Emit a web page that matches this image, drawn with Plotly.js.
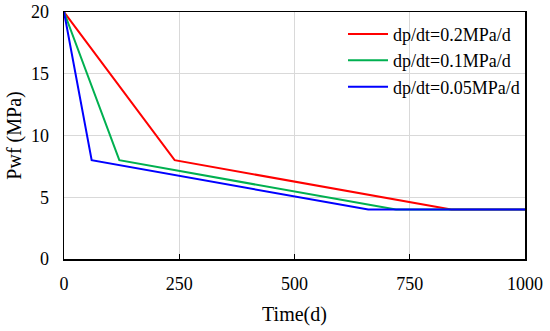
<!DOCTYPE html>
<html>
<head>
<meta charset="utf-8">
<script src="https://cdn.plot.ly/plotly-3.0.1.min.js"></script>
<style>html,body{margin:0;padding:0;background:#fff;}#chart{width:550px;height:331px;}</style>
</head>
<body>
<div id="chart"></div>
<script>
var seriesNames = ["dp/dt=0.2MPa/d", "dp/dt=0.1MPa/d", "dp/dt=0.05MPa/d"];
var timeRed = [0, 240, 840, 1000];
var pwfRed = [20, 8, 4, 4];
var timeGreen = [0, 120, 720, 1000];
var pwfGreen = [20, 8, 4, 4];
var timeBlue = [0, 60, 660, 1000];
var pwfBlue = [20, 8, 4, 4];
var xTicks = [0, 250, 500, 750, 1000];
var yTicks = [0, 5, 10, 15, 20];

var colors = ["#ff0000", "#00b050", "#0000ff"];
var xs = [timeRed, timeGreen, timeBlue];
var ys = [pwfRed, pwfGreen, pwfBlue];
var traces = seriesNames.map(function(n, i){
  return {x: xs[i], y: ys[i], name: n, mode: "lines", type: "scatter",
          line: {color: colors[i], width: 2}};
});
var fam = "'Liberation Serif', 'Times New Roman', serif";
var font = {family: fam, color: "#000"};
var layout = {
  width: 550, height: 331,
  margin: {l: 64, r: 25, t: 12, b: 72},
  paper_bgcolor: "#fff", plot_bgcolor: "#fff",
  font: font,
  showlegend: true,
  legend: {x: 1, y: 0.985, xanchor: "right", yanchor: "top", bgcolor: "rgba(0,0,0,0)",
           font: {family: fam, size: 18, color: "#000"}, tracegroupgap: 0, itemwidth: 40},
  xaxis: {range: [0, 1000], tickvals: xTicks, ticks: "inside", ticklen: 5, tickcolor: "#000",
          ticklabelstandoff: 8,
          showgrid: true, gridcolor: "#d9d9d9", gridwidth: 1, showline: true, linecolor: "#000",
          linewidth: 1.5, mirror: true, zeroline: false, tickfont: {family: fam, size: 18, color: "#000"},
          title: {text: "Time(d)", font: {family: fam, size: 20, color: "#000"}, standoff: 14}},
  yaxis: {range: [0, 20], tickvals: yTicks, ticks: "", ticklabelstandoff: 10,
          showgrid: true, gridcolor: "#d9d9d9", gridwidth: 1,
          showline: true, linecolor: "#000", linewidth: 1.5, mirror: true, zeroline: false,
          tickfont: {family: fam, size: 18, color: "#000"},
          title: {text: "Pwf (MPa)", font: {family: fam, size: 20, color: "#000"}, standoff: 4}}
};
Plotly.newPlot("chart", traces, layout, {staticPlot: true});
</script>
</body>
</html>
